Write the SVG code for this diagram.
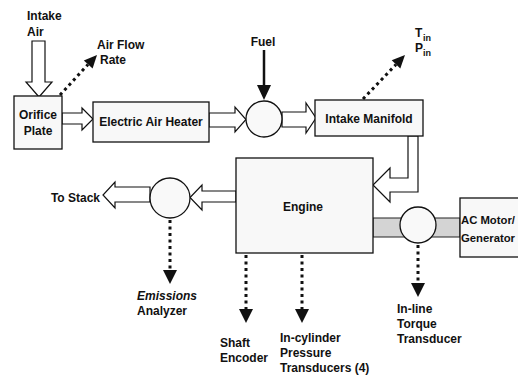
<svg xmlns="http://www.w3.org/2000/svg" width="518" height="376" viewBox="0 0 518 376">
<defs>
<style>
text{font-family:"Liberation Sans",Arial,sans-serif;font-size:12px;font-weight:bold;fill:#111}
.box{fill:#f8f8f8;stroke:#111;stroke-width:1.3}
.circ{fill:#f9f9f9;stroke:#111;stroke-width:1.3}
.hollow{fill:#fff;stroke:#111;stroke-width:1.2;stroke-linejoin:miter}
.dot{fill:none;stroke:#111;stroke-width:3;stroke-dasharray:3 3.5}
.head{fill:#111}
.band{fill:#d4d4d4;stroke:#222;stroke-width:1}
.sub{font-size:9px}
.mid{text-anchor:middle}
.small{font-size:11.3px}
</style>
</defs>
<rect width="518" height="376" fill="#fff"/>
<g id="connectors">
<polygon class="hollow" points="32,41 45,41 45,82 52,82 39,97 26,82 32,82"/>
<polygon class="hollow" points="62,113 82,113 82,108 93,119 82,130 82,124 62,124"/>
<polygon class="hollow" points="209,113 235,113 235,107 246,119.5 235,132 235,127 209,127"/>
<polygon class="hollow" points="282,112 306,112 306,103 316,118 306,133 306,127 282,127"/>
<polygon class="hollow" points="408,136 418,136 418,192 390,192 390,202 373,185 390,168 390,178 408,178"/>
<polygon class="hollow" points="236,191 202,191 202,185 190,197.5 202,210 202,202 236,202"/>
<polygon class="hollow" points="150,187 115,187 115,182 103,195 115,208 115,202 150,202"/>
<rect class="band" x="373" y="218" width="87" height="19"/>
<line x1="264" y1="50" x2="264" y2="87" stroke="#111" stroke-width="2.5"/>
<polygon class="head" points="257,85 271,85 264,100"/>
<line class="dot" x1="60" y1="95" x2="88" y2="64.5"/>
<polygon class="head" points="97,55 92.6,68.6 83.8,60.4"/>
<line class="dot" x1="363" y1="99" x2="396" y2="64.5"/>
<polygon class="head" points="405,55 400.3,68.5 391.7,60.3"/>
<line class="dot" x1="170" y1="220" x2="170" y2="270"/>
<polygon class="head" points="163,270 177,270 170,284"/>
<line class="dot" x1="246" y1="255" x2="246" y2="309"/>
<polygon class="head" points="239,309 253,309 246,323"/>
<line class="dot" x1="302" y1="255" x2="302" y2="309"/>
<polygon class="head" points="295,309 309,309 302,323"/>
<line class="dot" x1="418" y1="245" x2="418" y2="283"/>
<polygon class="head" points="411,283 425,283 418,297"/>
</g>
<g id="intake-air"><text x="27" y="20">Intake</text><text x="27" y="36">Air</text></g>
<g id="air-flow-rate"><text x="97" y="49">Air Flow</text><text x="100" y="64">Rate</text></g>
<g id="fuel"><text class="mid" x="263" y="46">Fuel</text></g>
<g id="tin-pin"><text x="415" y="37">T</text><text class="sub" x="423" y="41">in</text><text x="415" y="52">P</text><text class="sub" x="423" y="56">in</text></g>
<g id="orifice-plate"><rect class="box" x="14" y="96" width="48" height="53"/><text class="mid" x="38" y="119">Orifice</text><text class="mid" x="38" y="135">Plate</text></g>
<g id="electric-air-heater"><rect class="box" x="93" y="102" width="116" height="40"/><text class="mid" x="151" y="126">Electric Air Heater</text></g>
<g id="fuel-mixer"><circle class="circ" cx="264" cy="119" r="18"/></g>
<g id="intake-manifold"><rect class="box" x="315" y="100" width="108" height="36"/><text class="mid" x="369" y="123">Intake Manifold</text></g>
<g id="engine"><rect class="box" x="236" y="158" width="137" height="95"/><text class="mid" x="303" y="211">Engine</text></g>
<g id="exhaust-sampler"><circle class="circ" cx="170" cy="198" r="20"/></g>
<g id="to-stack"><text x="100" y="202" text-anchor="end">To Stack</text></g>
<g id="torque-coupling"><circle class="circ" cx="418" cy="225" r="18"/></g>
<g id="ac-motor-generator"><rect class="box" x="460" y="198" width="70" height="59"/><text class="small" x="461" y="224">AC Motor/</text><text class="small" x="461" y="242">Generator</text></g>
<g id="emissions-analyzer"><text x="137" y="300" font-style="italic">Emissions</text><text x="137" y="315">Analyzer</text></g>
<g id="shaft-encoder"><text x="220" y="347">Shaft</text><text x="220" y="362">Encoder</text></g>
<g id="pressure-transducers"><text x="280" y="342">In-cylinder</text><text x="280" y="357">Pressure</text><text x="280" y="372">Transducers (4)</text></g>
<g id="torque-transducer"><text x="397" y="313">In-line</text><text x="397" y="328">Torque</text><text x="397" y="343">Transducer</text></g>
</svg>
